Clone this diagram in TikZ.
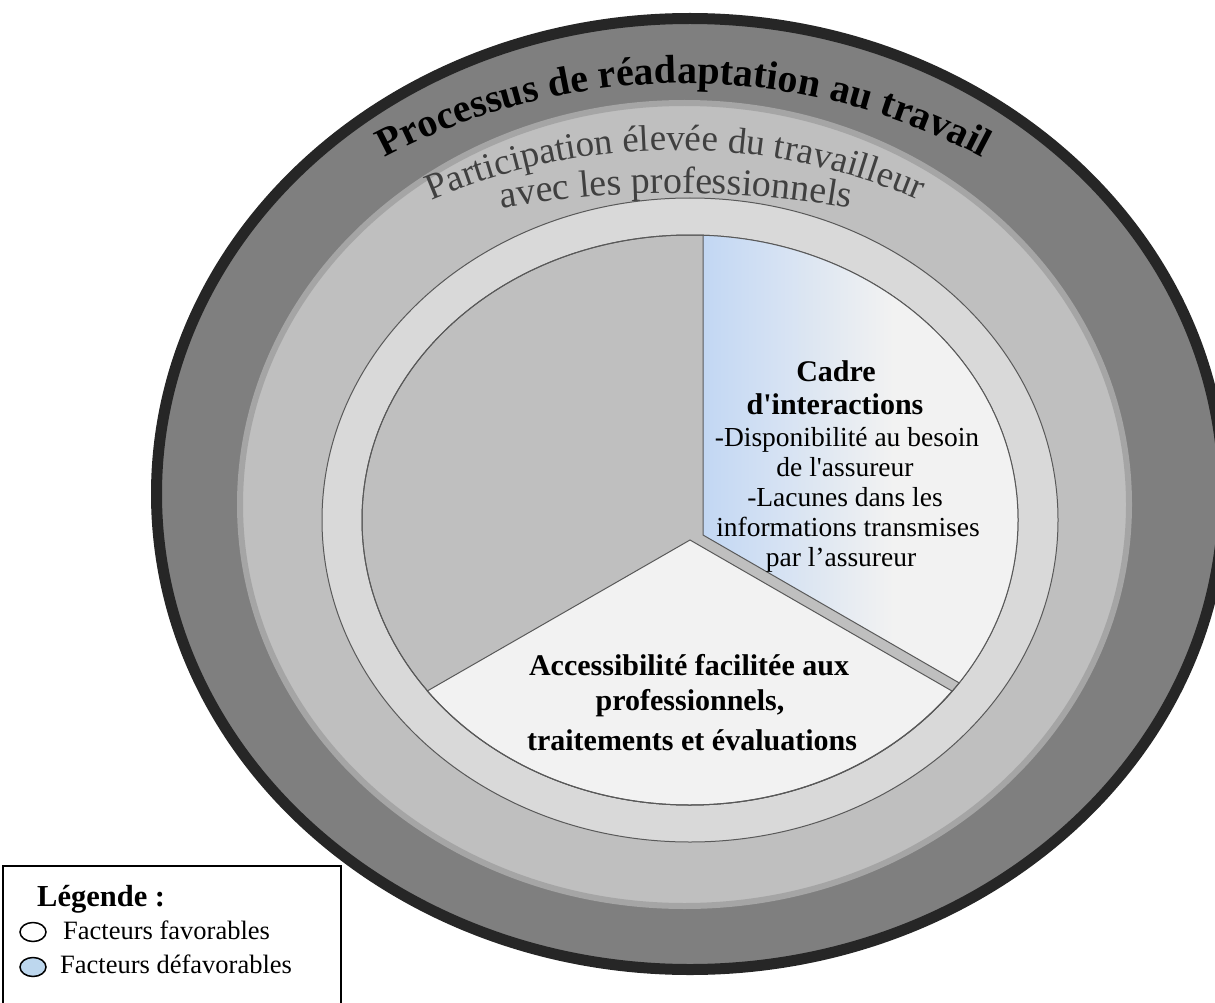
\documentclass[tikz,border=0pt]{standalone}
\usepackage{fontspec}
\setmainfont{Liberation Serif}
\usetikzlibrary{decorations.text}

\definecolor{rimdark}{HTML}{262626}
\definecolor{bandgrey}{HTML}{7F7F7F}
\definecolor{bandedge}{HTML}{A5A5A5}
\definecolor{midgrey}{HTML}{BFBFBF}
\definecolor{ringgrey}{HTML}{D9D9D9}
\definecolor{linegrey}{HTML}{595959}
\definecolor{palewhite}{HTML}{F2F2F2}
\definecolor{paleblue}{RGB}{194,215,243}
\definecolor{legendblue}{HTML}{BDD7EE}
\definecolor{subtext}{HTML}{404040}

% left-to-right fade used by the "Cadre d'interactions" slice
\pgfdeclarehorizontalshading{bluefade}{100bp}{color(0bp)=(paleblue); color(25bp)=(paleblue); color(49bp)=(palewhite); color(100bp)=(palewhite)}

\begin{document}
\begin{tikzpicture}[x=1pt,y=1pt,
  every node/.style={inner sep=0pt},
  sectorline/.style={draw=linegrey, line width=1},
  headtext/.style={anchor=base, font=\fontsize{30}{30}\selectfont\bfseries},
  bodytext/.style={anchor=base, font=\fontsize{27.5}{27.5}\selectfont},
  legendtext/.style={anchor=base west, font=\fontsize{26.5}{26.5}\selectfont},
  arctitle/.style={decorate, decoration={text along path, text align=center,
      text={|\fontsize{40}{40}\selectfont\bfseries|#1}}},
  arcsub/.style 2 args={decorate, decoration={text along path, text align=center,
      text={|\fontsize{#1}{#1}\selectfont\color{subtext}|#2}}}]

\useasboundingbox (0,0) rectangle (1215,-1003);
\clip (0,0) rectangle (1215,-1003);

% outer band: work rehabilitation process
\draw[rimdark, line width=11, fill=bandgrey] (690,-494) ellipse [x radius=533.5, y radius=475.5];
% second band: worker participation
\draw[bandedge, line width=6, fill=midgrey] (684.5,-504.5) ellipse [x radius=444.5, y radius=401.5];
% light ring around the pie
\draw[sectorline, fill=ringgrey] (690,-520) ellipse [x radius=368, y radius=322];
% pie body
\draw[sectorline, fill=midgrey] (690,-520) ellipse [x radius=328, y radius=285];

% slice: cadre d'interactions (shaded, pulled out)
\begin{scope}
  \clip (690,-520) ellipse [x radius=328, y radius=285];
  \shade[shading=bluefade] (703,-535) -- (703,-150) -- (1100,-150) -- (1100,-764) -- cycle;
\end{scope}
\draw[sectorline] (703,-235.2) -- (703,-535) -- (959.2,-682.9);

% slice: accessibilite
\draw[sectorline, fill=palewhite] (690,-540) -- (952,-691)
  arc[start angle=-36.87, end angle=-143.13, x radius=328, y radius=285] -- cycle;
\draw[sectorline] (690,-520) ellipse [x radius=328, y radius=285];

% curved titles
\path[arctitle={Processus de réadaptation au travail}]
  (372,-165) arc[start angle=119.4, end angle=60.6, radius=635];
\path[arcsub={37}{Participation élevée du travailleur}]
  (425.1,-203) arc[start angle=113.94, end angle=66.06, radius=616];
\path[arcsub={38}{avec les professionnels}]
  (486,-211) arc[start angle=100.83, end angle=79.17, radius=1011];

% text of the shaded slice
\node[headtext] (cadreA) at (836,-381) {Cadre};
\node[headtext] (cadreB) at (835,-414) {d\textquotesingle interactions};
\node[bodytext] (cadreC) at (847,-446) {-Disponibilité au besoin};
\node[bodytext] (cadreD) at (845,-476) {de l\textquotesingle assureur};
\node[bodytext] (cadreE) at (845,-506) {-Lacunes dans les};
\node[bodytext] (cadreF) at (848,-536) {informations transmises};
\node[bodytext] (cadreG) at (841,-566) {par l’assureur};

% text of the bottom slice
\node[headtext] (accA) at (689,-675) {Accessibilité facilitée aux};
\node[headtext] (accB) at (690,-710) {professionnels,};
\node[headtext] (accC) at (692,-750) {traitements et évaluations};

% legend
\draw[line width=2] (3,-866) rectangle (341,-1020);
\node[anchor=base west, font=\fontsize{30.5}{30.5}\selectfont\bfseries] (legtitle) at (37,-906) {Légende :};
\draw[line width=1.5] (33,-932) ellipse [x radius=13, y radius=9.5];
\node[legendtext] (legfav) at (63,-939) {Facteurs favorables};
\draw[line width=1.5, fill=legendblue] (33,-967) ellipse [x radius=13, y radius=9.5];
\node[legendtext] (legdef) at (60,-973) {Facteurs défavorables};

\end{tikzpicture}
\end{document}
